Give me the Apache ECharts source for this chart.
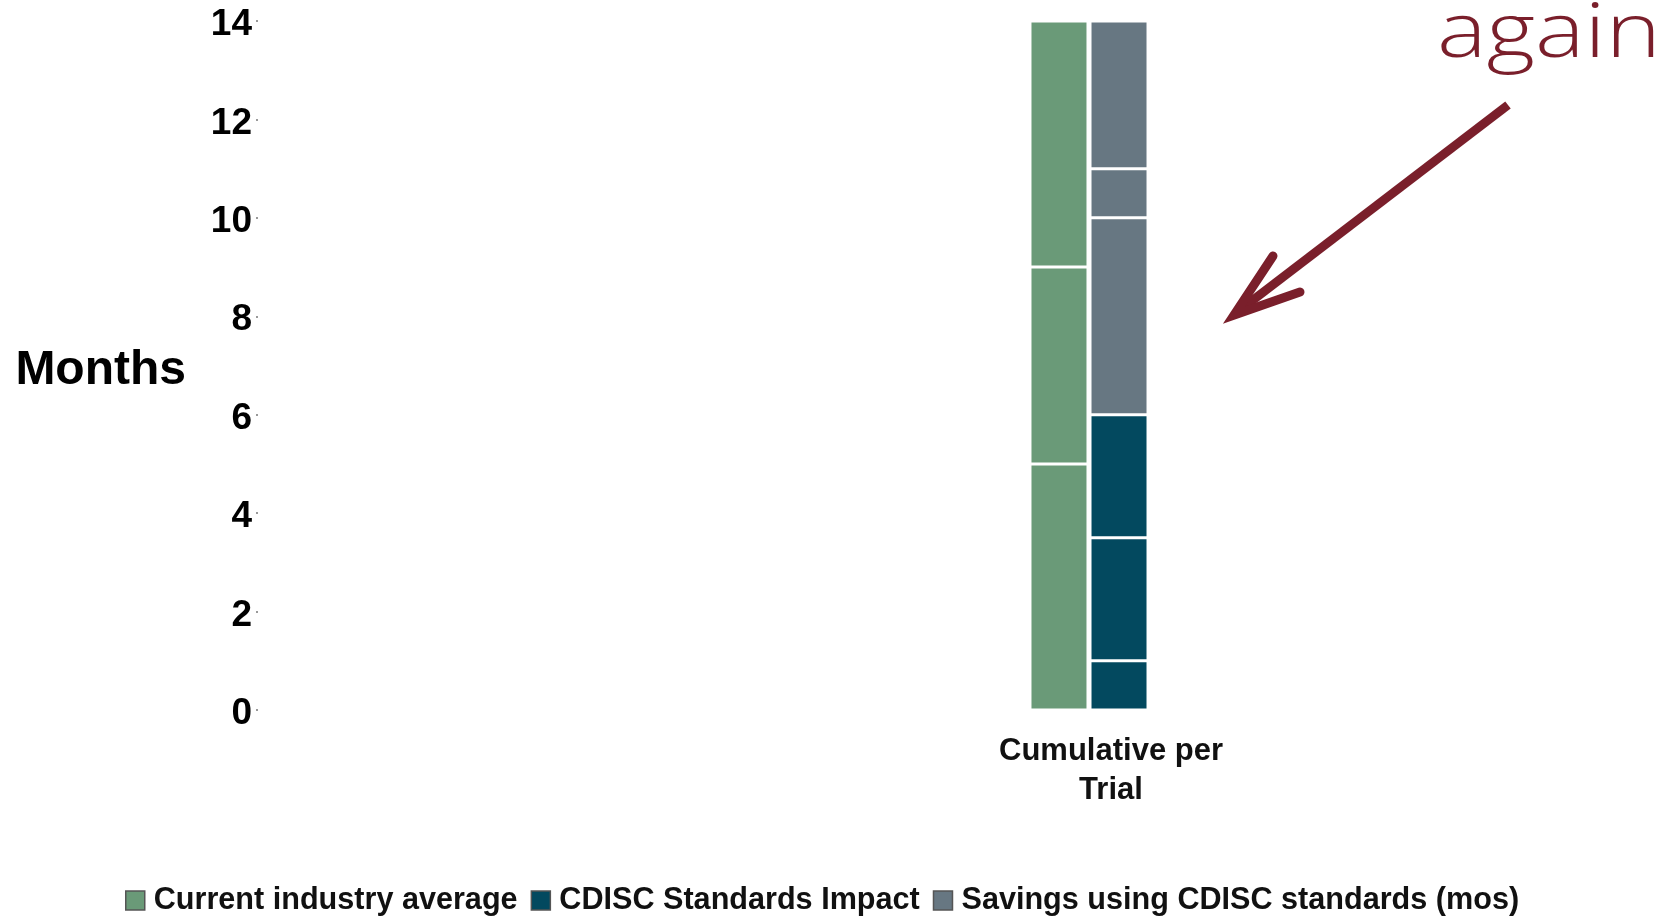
<!DOCTYPE html>
<html><head><meta charset="utf-8">
<script src="https://cdn.jsdelivr.net/npm/echarts@6/dist/echarts.min.js"></script>
<style>html,body{margin:0;padding:0;background:#fff}#c{width:1673px;height:917px}</style>
</head><body><div id="c"></div>
<script>
// ---- data ----
const categories = ['Cumulative per\nTrial'];
const industryAverage = [5, 4, 5];          // green stack segments (months)
const standardsImpact = [1, 2.5, 2.5];      // dark teal segments
const savingsCdisc = [4, 1, 3];             // grey-blue segments on top
const seriesNames = ['Current industry average', 'CDISC Standards Impact', 'Savings using CDISC standards (mos)'];
const seriesColors = ['#6a9a78', '#03495f', '#677782'];
const yMin = 0, yMax = 14, yInterval = 2;
const yAxisTitle = 'Months';
const noteText = 'again';

// ---- build series ----
function segs(values, name, color, stack) {
  return values.map(v => ({
    type: 'bar', name: name, stack: stack, data: [v],
    barWidth: 58, barGap: '3.5%',
    itemStyle: { color: color, borderColor: '#ffffff', borderWidth: 1.5 }
  }));
}
const series = [].concat(
  segs(industryAverage, seriesNames[0], seriesColors[0], 'industry'),
  segs(standardsImpact, seriesNames[1], seriesColors[1], 'cdisc'),
  segs(savingsCdisc, seriesNames[2], seriesColors[2], 'cdisc')
);

const chart = echarts.init(document.getElementById('c'), null, { renderer: 'canvas' });
const maroon = '#7a1f2b';
const font = 'Liberation Sans, Arial, sans-serif';
chart.setOption({
  backgroundColor: '#ffffff',
  animation: false,
  grid: { left: 505, right: 0, top: 21, height: 689, containLabel: false, outerBoundsMode: 'none' },
  legend: {
    data: seriesNames, left: 120, top: 880,
    icon: 'rect', itemWidth: 19, itemHeight: 19, itemGap: 13,
    itemStyle: { borderColor: '#555', borderWidth: 1.5 },
    textStyle: { fontFamily: font, fontWeight: 'bold', fontSize: 30.6, color: '#111', padding: [0, 0, 0, 4] }
  },
  xAxis: {
    type: 'category', data: categories,
    axisLine: { show: false }, axisTick: { show: false }, splitLine: { show: false },
    axisLabel: { margin: 22, lineHeight: 39, padding: [0, 0, 0, 44],
      fontFamily: font, fontWeight: 'bold', fontSize: 31, color: '#111' }
  },
  yAxis: {
    type: 'value', min: yMin, max: yMax, interval: yInterval, offset: 247,
    name: yAxisTitle, nameLocation: 'middle', nameRotate: 0, nameGap: 72,
    nameTextStyle: { fontFamily: font, fontWeight: 'bold', fontSize: 48, color: '#000', verticalAlign: 'top', lineHeight: 10 },
    axisLine: { show: false },
    axisTick: { show: true, length: 2, lineStyle: { color: '#999', width: 2 } },
    splitLine: { show: false },
    axisLabel: { margin: 6, verticalAlign: 'top', lineHeight: 8, fontFamily: font, fontWeight: 'bold', fontSize: 37, color: '#000' }
  },
  series: series,
  graphic: [
    { type: 'text', x: 1437, y: -3, scaleX: 1.23, z: 10,
      style: { text: noteText, fill: maroon, fontFamily: 'Open Sans, sans-serif', fontWeight: 300, fontSize: 76 } },
    { type: 'line', z: 10, shape: { x1: 1508, y1: 105, x2: 1236, y2: 313 },
      style: { stroke: maroon, lineWidth: 9, lineCap: 'butt' } },
    { type: 'polyline', z: 10, shape: { points: [[1273, 256], [1234, 315], [1300, 292]] },
      style: { stroke: maroon, lineWidth: 9, lineCap: 'round', lineJoin: 'miter', fill: null } }
  ]
});
</script></body></html>
